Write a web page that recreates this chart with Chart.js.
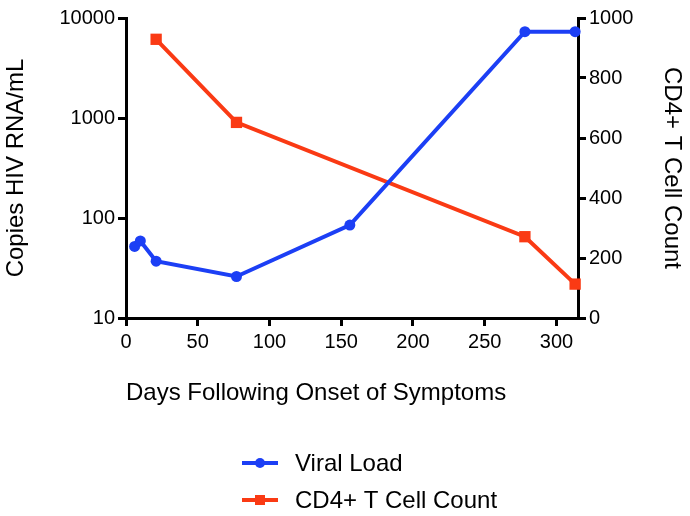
<!DOCTYPE html>
<html>
<head>
<meta charset="utf-8">
<script src="https://cdn.jsdelivr.net/npm/chart.js@4.4.1/dist/chart.umd.min.js"></script>
<style>
  html, body { margin: 0; padding: 0; background: #fff; }
  canvas { display: block; }
</style>
</head>
<body>
<canvas id="chart" width="690" height="516"></canvas>
<script>
// values
const viralDays = [6, 10, 21, 77, 156, 278, 313];
const viralLoad = [52, 59, 37, 26, 85, 7300, 7300];
const cd4Days = [21, 77, 278, 313];
const cd4Count = [929, 652, 271, 113];
const logTicks = [10, 100, 1000, 10000];

const blue = '#1c3ff5';
const red = '#fa3a14';
const font = "'Liberation Sans', Arial, Helvetica, sans-serif";

const toPoints = (xs, ys) => xs.map((x, i) => ({x: x, y: ys[i]}));

// legend stacked under the x axis, like the original
const stackedLegend = {
    id: 'stackedLegend',
    afterDraw(chart) {
        const ctx = chart.ctx;
        chart.data.datasets.forEach((ds, i) => {
            const y = 463 + i * 37;
            ctx.save();
            ctx.strokeStyle = ds.borderColor;
            ctx.fillStyle = ds.borderColor;
            ctx.lineWidth = 4;
            ctx.beginPath();
            ctx.moveTo(242, y);
            ctx.lineTo(278, y);
            ctx.stroke();
            if (ds.pointStyle === 'rect') {
                ctx.fillRect(255, y - 5, 10, 10);
            } else {
                ctx.beginPath();
                ctx.arc(260, y, 5, 0, Math.PI * 2);
                ctx.fill();
            }
            ctx.fillStyle = '#000';
            ctx.font = '24px ' + font;
            ctx.textBaseline = 'middle';
            ctx.fillText(ds.label, 295, y + 1);
            ctx.restore();
        });
    }
};

const tickGrid = {
    drawOnChartArea: false,
    color: '#000',
    lineWidth: 3,
    tickLength: 8,
};

const data = {
    datasets: [
        {
            label: 'Viral Load',
            data: toPoints(viralDays, viralLoad),
            yAxisID: 'y',
            borderColor: blue,
            backgroundColor: blue,
            borderWidth: 4,
            pointStyle: 'circle',
            pointRadius: 5.5,
            pointBorderWidth: 0,
            clip: false,
        },
        {
            label: 'CD4+ T Cell Count',
            data: toPoints(cd4Days, cd4Count),
            yAxisID: 'y1',
            borderColor: red,
            backgroundColor: red,
            borderWidth: 4,
            pointStyle: 'rect',
            pointRadius: 8,
            pointBorderWidth: 0,
            clip: false,
        }
    ]
};

const options = {
    responsive: false,
    animation: false,
    layout: { padding: { top: 18, left: 0, right: 0, bottom: 108 } },
    plugins: { legend: { display: false }, tooltip: { enabled: false } },
    scales: {
        x: {
            type: 'linear',
            min: 0,
            max: 315,
            grid: tickGrid,
            border: { color: '#000', width: 3 },
            ticks: { stepSize: 50, includeBounds: false, color: '#000', padding: 4, maxRotation: 0, callback: v => String(v), font: { family: font, size: 20 } },
            title: { display: true, text: 'Days Following Onset of Symptoms', color: '#000', align: 'start', padding: 0, font: { family: font, size: 24 } },
            afterFit: s => { s.height = 90; },
        },
        y: {
            type: 'logarithmic',
            position: 'left',
            min: 10,
            max: 10000,
            grid: tickGrid,
            border: { color: '#000', width: 3 },
            afterBuildTicks: s => { s.ticks = logTicks.map(v => ({value: v})); },
            ticks: { color: '#000', padding: 3, callback: v => String(v), font: { family: font, size: 20 } },
            title: { display: true, text: 'Copies HIV RNA/mL', color: '#000', padding: 2, font: { family: font, size: 24 } },
            afterFit: s => { s.width = 126; },
        },
        y1: {
            type: 'linear',
            position: 'right',
            min: 0,
            max: 1000,
            grid: tickGrid,
            border: { color: '#000', width: 3 },
            ticks: { stepSize: 200, color: '#000', padding: 3, callback: v => String(v), font: { family: font, size: 20 } },
            title: { display: true, text: 'CD4+ T Cell Count', color: '#000', padding: 4, font: { family: font, size: 24 } },
            afterFit: s => { s.width = 112; },
        }
    }
};

new Chart(document.getElementById('chart'), { type: 'line', data: data, options: options, plugins: [stackedLegend] });
</script>
</body>
</html>
